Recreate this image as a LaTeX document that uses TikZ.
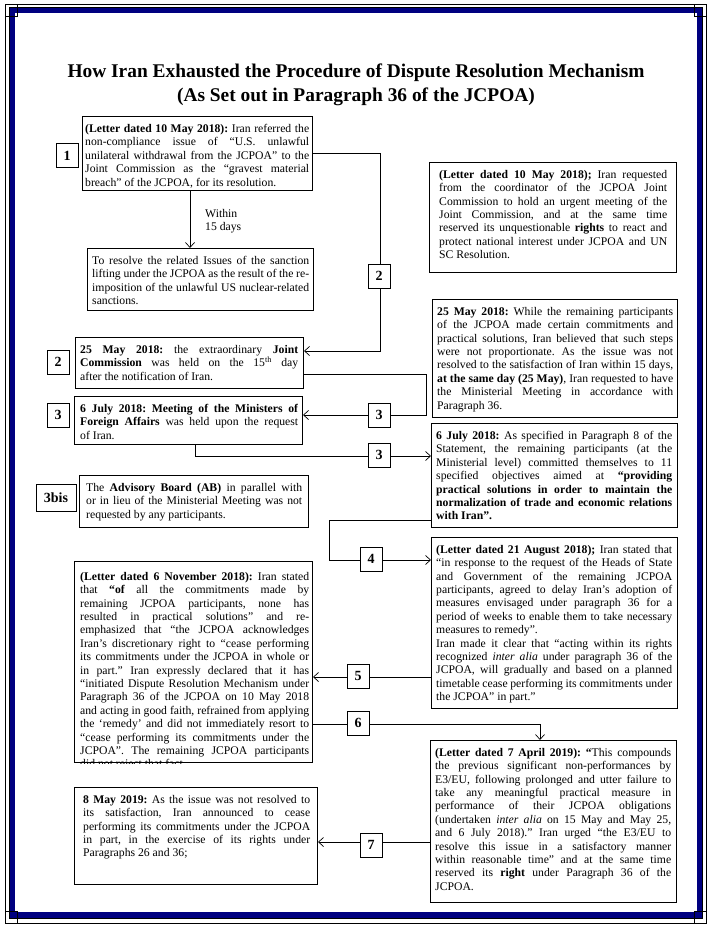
\documentclass[tikz,border=0pt]{standalone}
\usepackage{fontspec}
\setmainfont{Liberation Serif}
\usetikzlibrary{arrows.meta,calc}
\definecolor{navyband}{RGB}{0,0,128}
\newcommand\jl[1]{{\spaceskip=0pt\xspaceskip=0pt\makebox[\hsize][s]{#1}}}
\begin{document}
\frenchspacing
\begin{tikzpicture}[x=1pt,y=-1pt,
  boxframe/.style={draw=black,line width=1pt,fill=white,inner sep=0pt,anchor=north west},
  txt/.style={inner sep=0pt,anchor=north west,align=left,font=\fontsize{11.7}{13.4}\selectfont,
    execute at begin node={\spaceskip=0pt\xspaceskip=0pt\frenchspacing}},
  num/.style={draw=black,line width=1pt,fill=white,inner sep=0pt,minimum width=22pt,minimum height=24pt,font=\fontsize{14}{14}\selectfont\bfseries},
  conn/.style={line width=0.9pt},
  arr/.style={conn,-{Straight Barb[length=5pt,width=9pt,line width=0.7pt]}}
]
\useasboundingbox (0,0) rectangle (712,933);
\fill[white] (0,0) rectangle (712,933);
% page frame
\draw[line width=0.8pt] (5,4.5) rectangle (706,923.5);
\draw[navyband,line width=5.5pt] (12.5,10.5) rectangle (699.5,915);
\draw[line width=0.6pt] (9.5,7.5) rectangle (702.5,918);
\foreach \cx/\cy in {5/4.5,694/4.5,5/911.5,694/911.5}{
  \draw[line width=0.6pt] (\cx,\cy) rectangle ++(12,12);
}
% title
\node[font=\fontsize{19.4}{23.5}\selectfont\bfseries,align=center] (title) at (356,85)
 {How Iran Exhausted the Procedure of Dispute Resolution Mechanism\\(As Set out in Paragraph 36 of the JCPOA)};

% boxes
\node[boxframe,minimum width=230pt,minimum height=74pt] (A) at (82,116) {};
\node[boxframe,minimum width=226pt,minimum height=62pt] (B) at (87,248) {};
\node[boxframe,minimum width=247pt,minimum height=110pt] (C) at (429,162) {};
\node[boxframe,minimum width=245pt,minimum height=118pt] (D) at (432,299) {};
\node[boxframe,minimum width=228pt,minimum height=51pt] (H) at (75,337) {};
\node[boxframe,minimum width=228pt,minimum height=48pt] (I) at (74,396) {};
\node[boxframe,minimum width=246pt,minimum height=104pt] (E) at (431,423) {};
\node[boxframe,minimum width=229pt,minimum height=52pt] (J) at (79,475) {};
\node[boxframe,minimum width=246pt,minimum height=171pt] (F) at (431,537) {};
\node[boxframe,minimum width=238pt,minimum height=201pt] (G) at (74,561) {};
\node[boxframe,minimum width=246pt,minimum height=162pt] (K) at (430,740) {};
\node[boxframe,minimum width=243pt,minimum height=97pt] (L) at (74,787) {};

% texts
\node[txt,text width=224pt] (tA) at (85,124) {%
\jl{\textbf{(Letter dated 10 May 2018):} Iran referred the}\\
\jl{non-compliance issue of “U.S. unlawful}\\
\jl{unilateral withdrawal from the JCPOA” to the}\\
\jl{Joint Commission as the “gravest material}\\
breach” of the JCPOA, for its resolution.};

\node[txt,text width=217pt] (tB) at (92,256) {%
\jl{To resolve the related Issues of the sanction}\\
\jl{lifting under the JCPOA as the result of the re-}\\
\jl{imposition of the unlawful US nuclear-related}\\
sanctions.};

\node[txt,text width=228pt] (tC) at (439,170) {%
\jl{\textbf{(Letter dated 10 May 2018);} Iran requested}\\
\jl{from the coordinator of the JCPOA Joint}\\
\jl{Commission to hold an urgent meeting of the}\\
\jl{Joint Commission, and at the same time}\\
\jl{reserved its unquestionable \textbf{rights} to react and}\\
\jl{protect national interest under JCPOA and UN}\\
SC Resolution.};

\node[txt,text width=236pt] (tD) at (437,307) {%
\jl{\textbf{25 May 2018:} While the remaining participants}\\
\jl{of the JCPOA made certain commitments and}\\
\jl{practical solutions, Iran believed that such steps}\\
\jl{were not proportionate. As the issue was not}\\
\jl{resolved to the satisfaction of Iran within 15 days,}\\
\jl{\textbf{at the same day (25 May)}, Iran requested to have}\\
\jl{the Ministerial Meeting in accordance with}\\
Paragraph 36.};

\node[txt,text width=218pt] (tH) at (80,345) {%
\jl{\textbf{25 May 2018:} the extraordinary \textbf{Joint}}\\
\jl{\textbf{Commission} was held on the 15\textsuperscript{th} day}\\
after the notification of Iran.};

\node[txt,text width=218pt] (tI) at (80,404) {%
\jl{\textbf{6 July 2018: Meeting of the Ministers of}}\\
\jl{\textbf{Foreign Affairs} was held upon the request}\\
of Iran.};

\node[txt,text width=236pt] (tE) at (436,431) {%
\jl{\textbf{6 July 2018:} As specified in Paragraph 8 of the}\\
\jl{Statement, the remaining participants (at the}\\
\jl{Ministerial level) committed themselves to 11}\\
\jl{specified objectives aimed at \textbf{“providing}}\\
\jl{\textbf{practical solutions in order to maintain the}}\\
\jl{\textbf{normalization of trade and economic relations}}\\
\textbf{with Iran”.}};

\node[txt,text width=216pt] (tJ) at (86,483) {%
\jl{The \textbf{Advisory Board (AB)} in parallel with}\\
\jl{or in lieu of the Ministerial Meeting was not}\\
requested by any participants.};

\node[txt,text width=236pt] (tF) at (436,545) {%
\jl{\textbf{(Letter dated 21 August 2018);} Iran stated that}\\
\jl{“in response to the request of the Heads of State}\\
\jl{and Government of the remaining JCPOA}\\
\jl{participants, agreed to delay Iran’s adoption of}\\
\jl{measures envisaged under paragraph 36 for a}\\
\jl{period of weeks to enable them to take necessary}\\
measures to remedy”.\\
\jl{Iran made it clear that “acting within its rights}\\
\jl{recognized \textit{inter alia} under paragraph 36 of the}\\
\jl{JCPOA, will gradually and based on a planned}\\
\jl{timetable cease performing its commitments under}\\
the JCPOA” in part.”};

\begin{scope}
\clip (G.north west) rectangle (G.south east);
\node[txt,text width=229pt] (tG) at (80,572) {%
\jl{\textbf{(Letter dated 6 November 2018):} Iran stated}\\
\jl{that \textbf{“of} all the commitments made by}\\
\jl{remaining JCPOA participants, none has}\\
\jl{resulted in practical solutions” and re-}\\
\jl{emphasized that “the JCPOA acknowledges}\\
\jl{Iran’s discretionary right to “cease performing}\\
\jl{its commitments under the JCPOA in whole or}\\
\jl{in part.” Iran expressly declared that it has}\\
\jl{“initiated Dispute Resolution Mechanism under}\\
\jl{Paragraph 36 of the JCPOA on 10 May 2018}\\
\jl{and acting in good faith, refrained from applying}\\
\jl{the ‘remedy’ and did not immediately resort to}\\
\jl{“cease performing its commitments under the}\\
\jl{JCPOA”. The remaining JCPOA participants}\\
did not reject that fact.};
\end{scope}

\node[txt,text width=236pt] (tK) at (435,748) {%
\jl{\textbf{(Letter dated 7 April 2019): “}This compounds}\\
\jl{the previous significant non-performances by}\\
\jl{E3/EU, following prolonged and utter failure to}\\
\jl{take any meaningful practical measure in}\\
\jl{performance of their JCPOA obligations}\\
\jl{(undertaken \textit{inter alia} on 15 May and May 25,}\\
\jl{and 6 July 2018).” Iran urged “the E3/EU to}\\
\jl{resolve this issue in a satisfactory manner}\\
\jl{within reasonable time” and at the same time}\\
\jl{reserved its \textbf{right} under Paragraph 36 of the}\\
JCPOA.};

\node[txt,text width=227pt] (tL) at (83,795) {%
\jl{\textbf{8 May 2019:} As the issue was not resolved to}\\
\jl{its satisfaction, Iran announced to cease}\\
\jl{performing its commitments under the JCPOA}\\
\jl{in part, in the exercise of its rights under}\\
Paragraphs 26 and 36;};

\node[txt] (within) at (205,209) {Within\\15 days};

% connectors
\draw[arr] ($(A.south west)+(108,0)$) -- ($(B.north west)+(103,0)$);
\draw[arr] (A.east) -| ($(H.north east)+(76,14)$) -- ($(H.north east)+(0,14)$);
\draw[arr] ($(H.north east)+(0,37)$) -| ($(I.north east)+(123,19)$) -- ($(I.north east)+(0,19)$);
\draw[arr] ($(I.south west)+(121,0)$) |- ($(E.north west)+(0,33)$);
\draw[arr] ($(E.south west)+(0,-8)$) -- ++(-102,0) |- ($(F.north west)+(0,23)$);
\draw[arr] ($(F.north west)+(0,140)$) -- ($(G.north east)+(0,116)$);
\draw[arr] ($(G.north east)+(0,163)$) -| ($(K.north west)+(110,0)$);
\draw[arr] ($(K.north west)+(0,102)$) -- ($(L.north east)+(0,55)$);

% number labels
\node[num] (n1) at (67,156) {1};
\node[num] (n2a) at (379,276) {2};
\node[num] (n2b) at (58,362) {2};
\node[num] (n3a) at (58,415) {3};
\node[num] (n3b) at (379,415) {3};
\node[num] (n3c) at (379,455) {3};
\node[num,minimum width=40pt,minimum height=27pt] (n3bis) at (56,498) {3bis};
\node[num] (n4) at (371,559) {4};
\node[num] (n5) at (358,676) {5};
\node[num] (n6) at (358,723) {6};
\node[num] (n7) at (371,845) {7};
\end{tikzpicture}
\end{document}
